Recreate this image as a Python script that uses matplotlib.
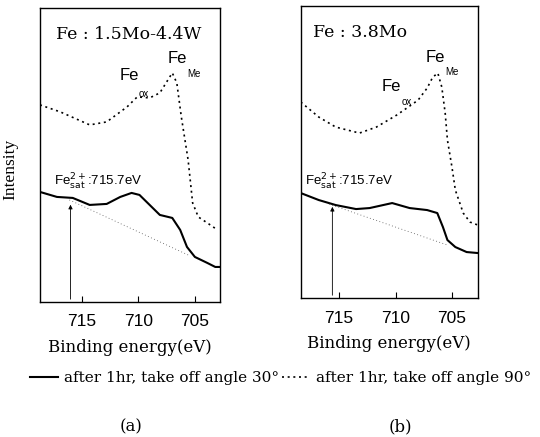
import matplotlib.pyplot as plt

# binding energy (eV) and intensity (arb. units)
# panel (a) Fe : 1.5Mo-4.4W
a_dot_e = [718.7, 716.9, 714.3, 712.8, 711.0, 710.1, 709.0, 708.1, 707.0, 706.6,
           706.2, 705.6, 705.2, 704.7, 703.9, 703.0]
a_dot_i = [197, 190, 177, 180, 195, 205, 204, 209, 229, 219,
           185, 142, 99, 85, 79, 72]
a_sol_e = [718.7, 717.2, 715.8, 714.3, 712.8, 711.6, 710.6, 709.9, 709.0, 708.1,
           707.0, 706.3, 705.7, 705.0, 703.9, 703.2, 702.8]
a_sol_i = [110, 105, 104, 97, 98, 105, 109, 107, 97, 87,
           84, 72, 55, 45, 39, 35, 35]
a_bg_e = [716.1, 705.6]
a_bg_i = [102, 47]
a_sat = 716.0
a_sat_top = 100

# panel (b) Fe : 3.8Mo
b_dot_e = [718.4, 716.8, 715.3, 713.2, 711.7, 709.9, 708.75, 708.0, 707.2, 706.7,
           706.25, 705.9, 705.6, 705.4, 705.0, 704.7, 704.0, 703.4, 702.7]
b_dot_i = [196, 181, 171, 165, 171, 183, 192, 198, 210, 221,
           225, 211, 185, 158, 131, 108, 85, 76, 73]
b_sol_e = [718.4, 716.8, 715.3, 713.5, 712.3, 710.3, 708.75, 707.2, 706.3, 705.8,
           705.4, 704.7, 703.7, 702.7]
b_sol_i = [105, 98, 93, 89, 90, 95, 90, 88, 85, 71,
           58, 51, 46, 45]
b_bg_e = [715.9, 705.4]
b_bg_i = [94, 53]
b_sat = 715.6
b_sat_top = 94

ticks = [715, 710, 705]

serif = 'DejaVu Serif'
times = 'Liberation Serif'
sans = 'Liberation Sans'

fig = plt.figure(figsize=(5.4, 4.37), dpi=100)
ax1 = fig.add_axes([0.074, 0.309, 0.333, 0.673])
ax2 = fig.add_axes([0.557, 0.318, 0.328, 0.668])


def panel(ax, dot_e, dot_i, sol_e, sol_i, bg_e, bg_i, sat, sat_top, xlim, ytop):
    l1, = ax.plot(sol_e, sol_i, color='black', lw=1.5, ls='-')
    l2, = ax.plot(dot_e, dot_i, color='black', lw=1.2, ls=(0, (1.2, 2.2)))
    ax.plot(bg_e, bg_i, color='#555555', lw=0.6, ls=(0, (1, 3)))
    ax.annotate('', xy=(sat, sat_top), xytext=(sat, 0),
                arrowprops=dict(arrowstyle='-|>', color='black', lw=0.6,
                                mutation_scale=6))
    ax.set_xlim(*xlim)
    ax.set_ylim(0, ytop)
    ax.set_xticks(ticks)
    ax.set_yticks([])
    ax.tick_params(axis='x', direction='in', length=4, labelsize=12.5, pad=9)
    for lab in ax.get_xticklabels():
        lab.set_family(sans)
    ax.set_xlabel('Binding energy(eV)', family=serif, fontsize=12, labelpad=7)
    for s in ax.spines.values():
        s.set_linewidth(1.0)
    return l1, l2


l1, l2 = panel(ax1, a_dot_e, a_dot_i, a_sol_e, a_sol_i, a_bg_e, a_bg_i,
               a_sat, a_sat_top, (718.7, 702.8), 294)
panel(ax2, b_dot_e, b_dot_i, b_sol_e, b_sol_i, b_bg_e, b_bg_i,
      b_sat, b_sat_top, (718.4, 702.7), 292)

ax1.set_ylabel('Intensity', family=times, fontsize=12.5)
ax1.yaxis.set_label_coords(-0.12, 0.45)

# panel annotations
ax1.text(717.3, 267, 'Fe : 1.5Mo-4.4W', family=serif, fontsize=12.5, va='center')
ax1.text(717.5, 120, r'Fe$^{2+}_{\rm sat}$:715.7eV', family=sans, fontsize=9.5, va='center')
ax1.text(711.7, 226, 'Fe', family=sans, fontsize=12, va='center')
ax1.text(710.0, 208, 'ox', family=sans, fontsize=7, va='center')
ax1.text(707.4, 243, 'Fe', family=sans, fontsize=12, va='center')
ax1.text(705.7, 228, 'Me', family=sans, fontsize=7, va='center')

ax2.text(717.3, 266, 'Fe : 3.8Mo', family=serif, fontsize=12.5, va='center')
ax2.text(718.0, 116, r'Fe$^{2+}_{\rm sat}$:715.7eV', family=sans, fontsize=9.5, va='center')
ax2.text(711.2, 212, 'Fe', family=sans, fontsize=12, va='center')
ax2.text(709.5, 196, 'ox', family=sans, fontsize=7, va='center')
ax2.text(707.3, 241, 'Fe', family=sans, fontsize=12, va='center')
ax2.text(705.6, 226, 'Me', family=sans, fontsize=7, va='center')

fig.legend([l1, l2], ['after 1hr, take off angle 30°', 'after 1hr, take off angle 90°'],
           loc='center', bbox_to_anchor=(0.52, 0.135), ncol=2, frameon=False,
           prop={'family': serif, 'size': 11}, handlelength=1.8, handletextpad=0.4,
           columnspacing=0.2)

fig.text(0.243, 0.012, '(a)', family=serif, fontsize=12, ha='center')
fig.text(0.742, 0.012, '(b)', family=serif, fontsize=12, ha='center')

fig.savefig('out.png', dpi=100)
